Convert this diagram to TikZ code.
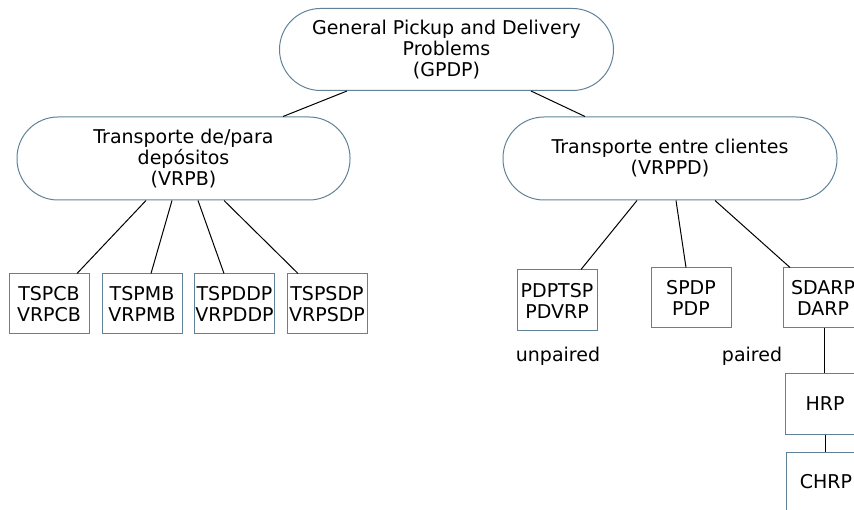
\documentclass[tikz,border=0pt]{standalone}
\usepackage{fontspec}
\setmainfont{DejaVu Sans}
\begin{document}
\begin{tikzpicture}[x=1pt,y=-1pt,
  every node/.style={font=\fontsize{19}{21}\selectfont, align=center, inner sep=0pt},
  group/.style={draw=boxblue, line width=1pt, rounded corners=41pt, minimum width=333pt, minimum height=83pt},
  leaf/.style={draw=boxblue, line width=1pt, minimum width=80pt, minimum height=60pt},
  link/.style={draw=black, line width=1pt}]
\definecolor{boxblue}{HTML}{5F8299}
\useasboundingbox (0,0) rectangle (854,510);
\clip (0,0) rectangle (854,510);

% top level and its two families
\node[group, minimum width=334pt, minimum height=82pt] (gpdp) at (446.5,49.5) {General Pickup and Delivery\\Problems\\(GPDP)};
\node[group] (vrpb) at (183.5,158.5) {Transporte de/para\\depósitos\\(VRPB)};
\node[group, minimum width=334pt] (vrppd) at (670,158.5) {Transporte entre clientes\\(VRPPD)};

% depot transport variants
\node[leaf] (tspcb)  at (49,304)    {TSPCB\\VRPCB};
\node[leaf] (tspmb)  at (142,304)   {TSPMB\\VRPMB};
\node[leaf] (tspddp) at (234.5,304) {TSPDDP\\VRPDDP};
\node[leaf] (tspsdp) at (327,304)   {TSPSDP\\VRPSDP};

% customer-to-customer variants
\node[leaf, minimum height=61pt] (pdptsp) at (557,300.5) {PDPTSP\\PDVRP};
\node[leaf] (spdp)  at (691,298) {SPDP\\PDP};
\node[leaf] (sdarp) at (823,298) {SDARP\\DARP};
\node[leaf] (hrp)   at (825,404) {HRP};
\node[leaf] (chrp)  at (826,482) {CHRP};

\node (unpaired) at (558,356) {unpaired};
\node (paired)   at (752,356) {paired};

% connectors
\draw[link] ([xshift=-99.5pt]gpdp.south) -- ([xshift=99.5pt]vrpb.north);
\draw[link] ([xshift=84.5pt]gpdp.south) -- ([xshift=-85pt]vrppd.north);

\draw[link] ([xshift=-37.5pt]vrpb.south) -- ([xshift=28pt]tspcb.north);
\draw[link] ([xshift=-11.5pt]vrpb.south) -- ([xshift=9pt]tspmb.north);
\draw[link] ([xshift=14.5pt]vrpb.south)  -- ([xshift=-10.5pt]tspddp.north);
\draw[link] ([xshift=40.5pt]vrpb.south)  -- ([xshift=-29pt]tspsdp.north);

\draw[link] ([xshift=-33pt]vrppd.south) -- ([xshift=24pt]pdptsp.north);
\draw[link] ([xshift=6pt]vrppd.south)   -- ([xshift=-5pt]spdp.north);
\draw[link] ([xshift=45pt]vrppd.south)  -- ([xshift=-33pt]sdarp.north);

\draw[link] ([xshift=1pt]sdarp.south) -- ([xshift=1pt]sdarp.south |- hrp.north);
\draw[link] (hrp.south) -- (hrp.south |- chrp.north);
\end{tikzpicture}
\end{document}
